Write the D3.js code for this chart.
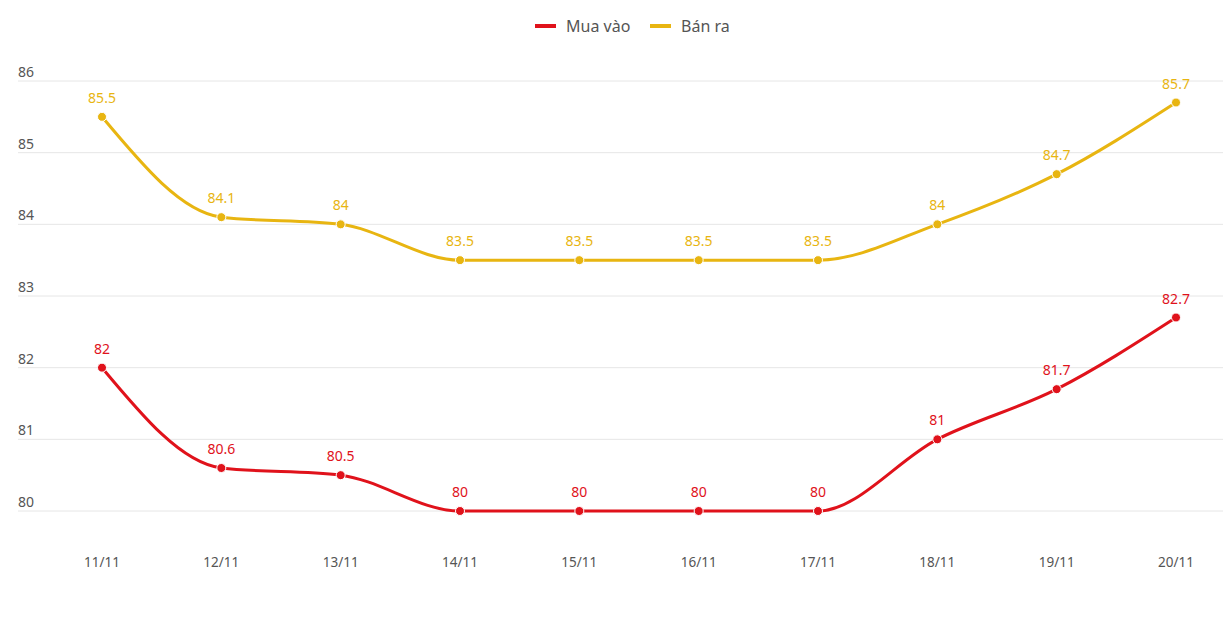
<!DOCTYPE html>
<html><head><meta charset="utf-8">
<script src="https://cdn.jsdelivr.net/npm/d3@7"></script>
<style>body{margin:0;background:#fff}svg{display:block}</style>
</head><body>
<svg id="c" width="1223" height="617"></svg>
<script>
const categories = ["11/11","12/11","13/11","14/11","15/11","16/11","17/11","18/11","19/11","20/11"];
const muaVao = [82,80.6,80.5,80,80,80,80,81,81.7,82.7];
const banRa = [85.5,84.1,84,83.5,83.5,83.5,83.5,84,84.7,85.7];
const yTicks = [80,81,82,83,84,85,86];
const seriesNames = ["Mua vào","Bán ra"];
const colors = ["#e0121b","#e8b511"];

const svg = d3.select("#c");
const x = d3.scalePoint().domain(categories).range([102,1176]);
const y = d3.scaleLinear().domain([80,86]).range([511,81]);
const font = "'Noto Sans', 'Open Sans', sans-serif";

const g = svg.append("g");
yTicks.forEach(t=>{
  g.append("line").attr("x1",18).attr("x2",1223).attr("y1",y(t)).attr("y2",y(t))
   .attr("stroke","#e6e6e6").attr("stroke-width",1);
  g.append("text").attr("x",18).attr("y",y(t)-4).text(t)
   .attr("font-family",font).attr("font-size",14).attr("fill","#555");
});
categories.forEach(c=>{
  g.append("text").attr("x",x(c)).attr("y",567).attr("text-anchor","middle").text(c)
   .attr("font-family",font).attr("font-size",13.5).attr("fill","#555");
});

const line = d3.line().x((d,i)=>x(categories[i])).y(d=>y(d)).curve(d3.curveMonotoneX);
[muaVao,banRa].forEach((s,k)=>{
  svg.append("path").attr("d",line(s)).attr("fill","none").attr("stroke",colors[k]).attr("stroke-width",3);
  s.forEach((v,i)=>{
    svg.append("circle").attr("cx",x(categories[i])).attr("cy",y(v)).attr("r",4.5)
      .attr("fill",colors[k]).attr("stroke","#fff").attr("stroke-width",1);
    svg.append("text").attr("x",x(categories[i])).attr("y",y(v)-14).attr("text-anchor","middle")
      .text(v).attr("font-family",font).attr("font-size",14).attr("fill",colors[k]);
  });
});

// legend
const leg = svg.append("g");
const lx = [535,650];
seriesNames.forEach((n,k)=>{
  leg.append("line").attr("x1",lx[k]).attr("x2",lx[k]+21).attr("y1",26).attr("y2",26)
    .attr("stroke",colors[k]).attr("stroke-width",4);
  leg.append("text").attr("x",lx[k]+31).attr("y",32).text(n)
    .attr("font-family",font).attr("font-size",16).attr("fill","#555");
});
</script>
</body></html>
